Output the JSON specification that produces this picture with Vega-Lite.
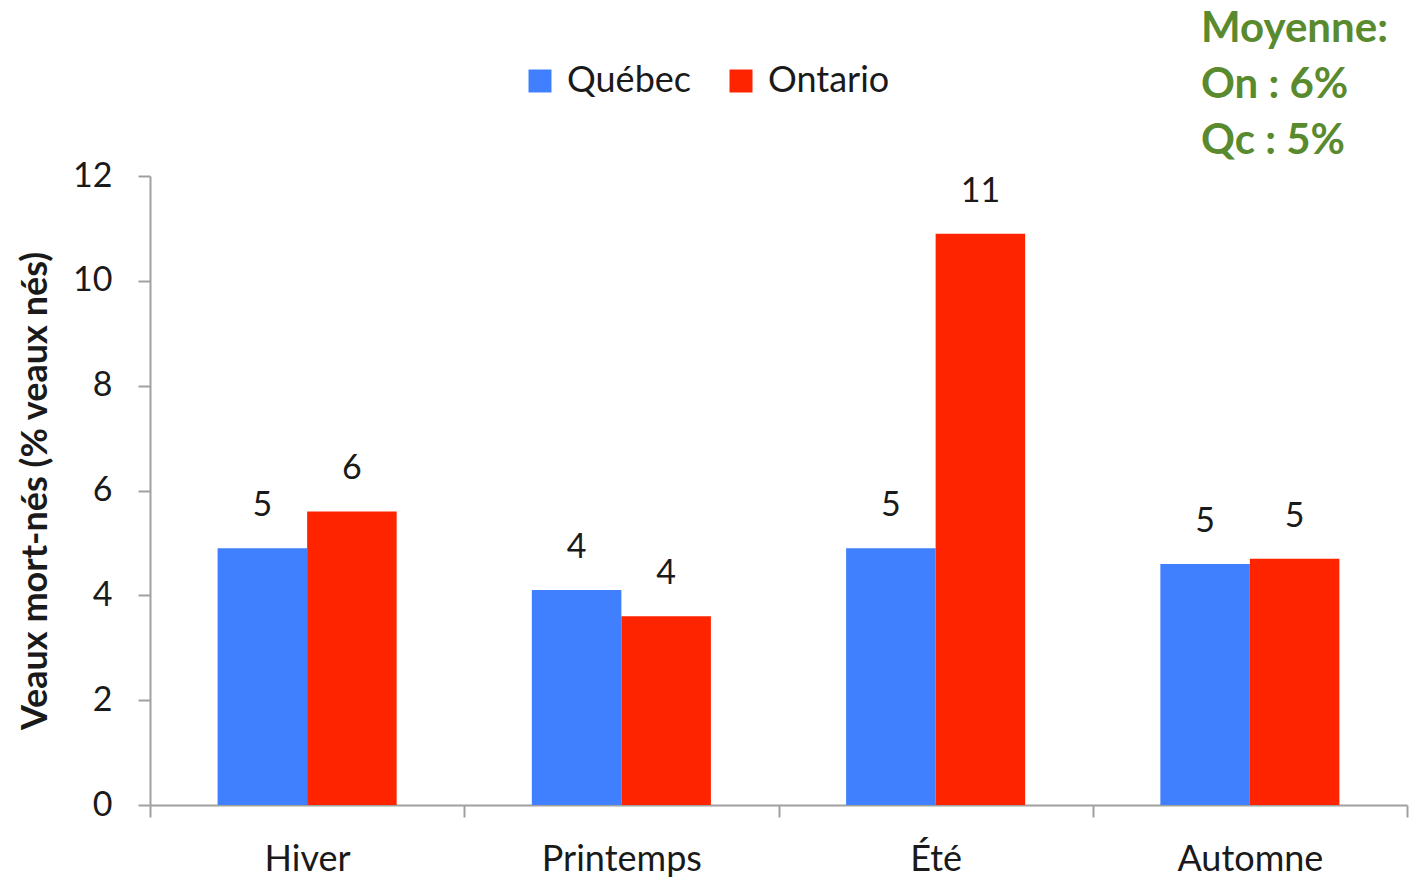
{
  "$schema": "https://vega.github.io/schema/vega-lite/v6.json",
  "width": 1412,
  "height": 883,
  "autosize": {"type": "fit", "contains": "padding"},
  "padding": {"left": 17, "top": 8, "right": 4, "bottom": 6},
  "background": "white",
  "title": {
    "text": ["Moyenne:", "On : 6%", "Qc : 5%"],
    "anchor": "end",
    "frame": "group",
    "align": "left",
    "dx": -206,
    "offset": -4,
    "font": "Lato",
    "fontSize": 42,
    "fontWeight": "bold",
    "color": "#5A8A2E",
    "lineHeight": 56
  },
  "data": {
    "values": [
      {"saison": "Hiver", "region": "Québec", "valeur": 4.9},
      {"saison": "Hiver", "region": "Ontario", "valeur": 5.6},
      {"saison": "Printemps", "region": "Québec", "valeur": 4.1},
      {"saison": "Printemps", "region": "Ontario", "valeur": 3.6},
      {"saison": "Été", "region": "Québec", "valeur": 4.9},
      {"saison": "Été", "region": "Ontario", "valeur": 10.9},
      {"saison": "Automne", "region": "Québec", "valeur": 4.6},
      {"saison": "Automne", "region": "Ontario", "valeur": 4.7}
    ]
  },
  "encoding": {
    "x": {
      "field": "saison",
      "type": "nominal",
      "sort": ["Hiver", "Printemps", "Été", "Automne"],
      "scale": {"paddingInner": 0, "paddingOuter": 0},
      "axis": {
        "title": null,
        "labelAngle": 0,
        "tickBand": "extent",
        "domainColor": "#A0A0A0",
        "domainWidth": 2,
        "tickColor": "#A0A0A0",
        "tickWidth": 2,
        "tickSize": 12,
        "labelFont": "Lato",
        "labelFontSize": 36,
        "labelColor": "#1a1a1a",
        "labelPadding": 25
      }
    },
    "xOffset": {
      "field": "region",
      "type": "nominal",
      "sort": ["Québec", "Ontario"],
      "scale": {"paddingInner": 0, "paddingOuter": 0.755}
    },
    "y": {
      "field": "valeur",
      "type": "quantitative",
      "scale": {"domain": [0, 12], "nice": false},
      "axis": {
        "title": "Veaux mort-nés (% veaux nés)",
        "titleFont": "Lato",
        "titleFontSize": 36,
        "titleFontWeight": "bold",
        "titleColor": "#1a1a1a",
        "titlePadding": 18,
        "values": [0, 2, 4, 6, 8, 10, 12],
        "grid": false,
        "domainColor": "#A0A0A0",
        "domainWidth": 2,
        "tickColor": "#A0A0A0",
        "tickWidth": 2,
        "tickSize": 12,
        "labelFont": "Lato",
        "labelFontSize": 34,
        "labelColor": "#1a1a1a",
        "labelPadding": 26
      }
    }
  },
  "layer": [
    {
      "mark": {"type": "bar"},
      "encoding": {
        "color": {
          "field": "region",
          "type": "nominal",
          "scale": {"domain": ["Québec", "Ontario"], "range": ["#4080FF", "#FF2400"]},
          "legend": {
            "title": null,
            "orient": "none",
            "legendX": 372,
            "legendY": -113,
            "direction": "horizontal",
            "symbolType": "square",
            "symbolSize": 529,
            "symbolStrokeWidth": 0,
            "symbolOpacity": 1,
            "labelFont": "Lato",
            "labelFontSize": 36,
            "labelColor": "#1a1a1a",
            "labelOffset": 9,
            "columnPadding": 32,
            "padding": 0
          }
        }
      }
    },
    {
      "mark": {"type": "text", "baseline": "alphabetic", "dy": -32, "font": "Lato", "fontSize": 34, "color": "#1a1a1a"},
      "encoding": {
        "text": {"field": "valeur", "type": "quantitative", "format": ".0f"}
      }
    }
  ],
  "config": {
    "view": {"stroke": null}
  }
}
